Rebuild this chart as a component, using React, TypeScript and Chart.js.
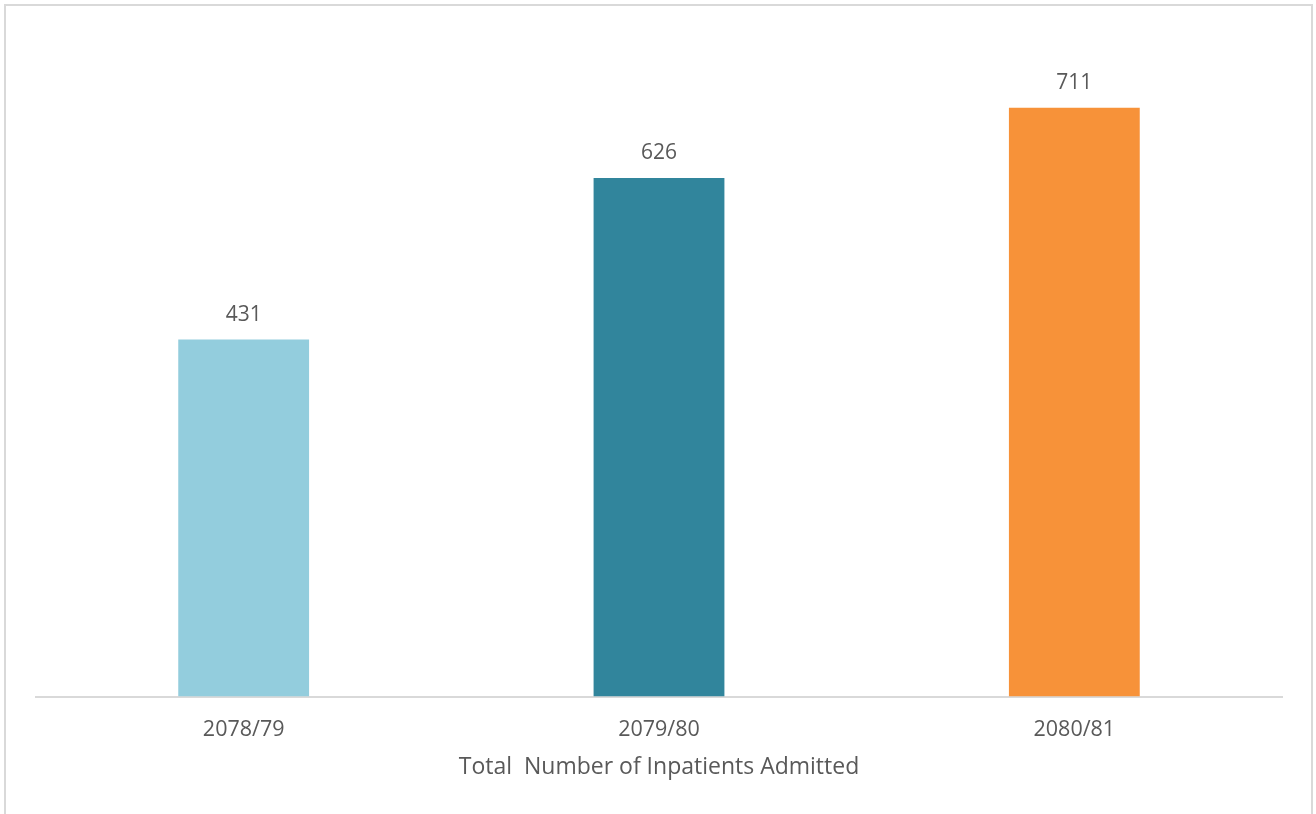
import React, { useEffect, useRef } from "react";
import { Chart, registerables } from "chart.js";

Chart.register(...registerables);

const categories = ["2078/79", "2079/80", "2080/81"];
const admitted = [431, 626, 711];
const barColors = ["#93CDDD", "#31859C", "#F79239"];
const axisTitle = "Total  Number of Inpatients Admitted";

const FONT = "'Open Sans', 'Noto Sans', sans-serif";
const TEXT = "#595959";

const dataLabels = {
  id: "dataLabels",
  afterDatasetsDraw(chart: any) {
    const ctx = chart.ctx;
    const meta = chart.getDatasetMeta(0);
    ctx.save();
    ctx.font = `21px ${FONT}`;
    ctx.fillStyle = TEXT;
    ctx.textAlign = "center";
    ctx.textBaseline = "middle";
    meta.data.forEach((bar: any, i: number) => {
      const v = chart.data.datasets[0].data[i];
      ctx.fillText(String(v), bar.x, bar.y - 25);
    });
    ctx.restore();
  },
};

export default function App() {
  const ref = useRef<HTMLCanvasElement | null>(null);
  useEffect(() => {
    if (!ref.current) return;
    const chart = new Chart(ref.current, {
      type: "bar",
      data: {
        labels: categories,
        datasets: [
          {
            data: admitted,
            backgroundColor: barColors,
            borderWidth: 0,
            barPercentage: 0.315,
            categoryPercentage: 1,
          },
        ],
      },
      options: {
        animation: false,
        responsive: false,
        maintainAspectRatio: false,
        layout: { padding: { left: 36, right: 34, top: 34, bottom: 33 } },
        plugins: { legend: { display: false }, tooltip: { enabled: false } },
        scales: {
          y: { display: false, min: 0, max: 800 },
          x: {
            grid: { display: false, drawTicks: false },
            border: { display: true, color: "#d9d9d9", width: 2 },
            ticks: {
              color: TEXT,
              font: { family: FONT, size: 21.5 },
              padding: 20,
            },
            title: {
              display: true,
              text: axisTitle,
              color: TEXT,
              font: { family: FONT, size: 23 },
              padding: { top: -9, bottom: 0 },
            },
          },
        },
      },
      plugins: [dataLabels],
    });
    return () => chart.destroy();
  }, []);

  return (
    <div style={{ position: "absolute", left: 0, top: 0, width: 1316, height: 814, overflow: "hidden", background: "#fff" }}>
      <div
        style={{
          position: "absolute",
          left: 4,
          top: 4,
          width: 1309,
          height: 860,
          border: "2px solid #d9d9d9",
          boxSizing: "border-box",
        }}
      />
      <canvas ref={ref} width={1316} height={814} style={{ position: "absolute", left: 0, top: 0, width: 1316, height: 814 }} />
    </div>
  );
}
